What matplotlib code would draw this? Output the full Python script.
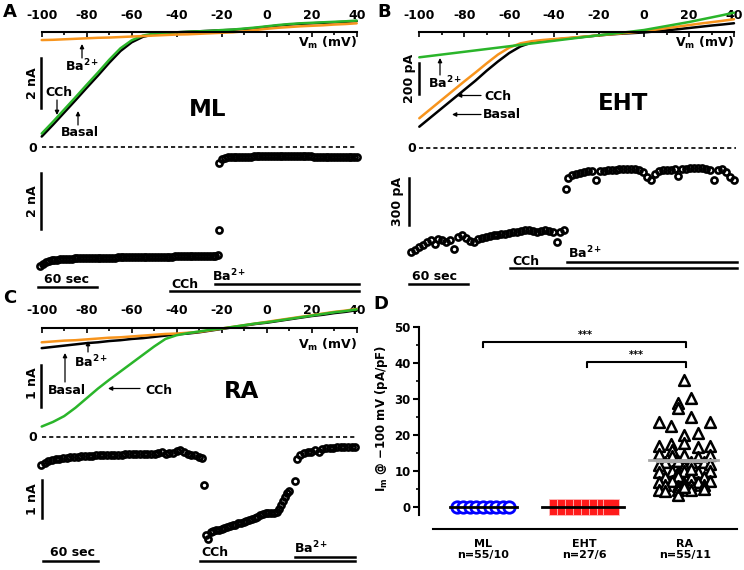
import numpy as np
import matplotlib
matplotlib.use('Agg')
import matplotlib.pyplot as plt
from matplotlib.lines import Line2D
from matplotlib.patches import FancyArrowPatch
from matplotlib.transforms import Affine2D

plt.rcParams['font.family'] = ['DejaVu Sans']
plt.rcParams['font.weight'] = 'bold'
plt.rcParams['mathtext.fontset'] = 'custom'
plt.rcParams['mathtext.rm'] = 'DejaVu Sans:bold'
plt.rcParams['mathtext.it'] = 'DejaVu Sans:bold'
plt.rcParams['mathtext.bf'] = 'DejaVu Sans:bold'
plt.rcParams['axes.unicode_minus'] = False

BLACK = 'black'
GREEN = '#2ab52a'
ORANGE = '#f7941d'

# ---------------- I-V ramps (mV, 5 mV steps) ----------------
vm = np.arange(-100, 45, 5)

iv_a_basal = [-4.17, -3.70, -3.21, -2.72, -2.22, -1.73, -1.22, -0.75, -0.40, -0.18, -0.08, -0.03, 0.00, 0.02, 0.04,
              0.06, 0.08, 0.10, 0.13, 0.17, 0.22, 0.27, 0.31, 0.34, 0.36, 0.38, 0.40, 0.42, 0.45]
iv_a_cch = [-4.05, -3.58, -3.09, -2.60, -2.10, -1.61, -1.10, -0.64, -0.32, -0.13, -0.05, -0.02, 0.00, 0.02, 0.04,
            0.06, 0.09, 0.11, 0.15, 0.19, 0.24, 0.29, 0.33, 0.36, 0.38, 0.40, 0.42, 0.44, 0.47]
iv_a_ba = [-0.31, -0.30, -0.28, -0.26, -0.24, -0.22, -0.21, -0.19, -0.17, -0.15, -0.13, -0.11, -0.09, -0.08, -0.06,
           -0.04, -0.02, 0.00, 0.04, 0.09, 0.14, 0.18, 0.21, 0.24, 0.26, 0.28, 0.31, 0.33, 0.36]

iv_b_basal = [-615, -555, -495, -435, -375, -315, -250, -190, -135, -92, -66, -56, -48, -41, -34,
              -27, -20, -14, -9, -5, -1, 6, 13, 20, 28, 36, 44, 51, 59]
iv_b_cch = [-560, -500, -440, -380, -320, -262, -202, -145, -100, -72, -58, -50, -44, -38, -32,
            -26, -20, -13, -7, 0, 7, 17, 27, 37, 47, 57, 66, 75, 85]
iv_b_ba = [-163, -154, -145, -136, -127, -118, -109, -100, -91, -82, -73, -64, -55, -46, -37,
           -28, -19, -11, -3, 6, 15, 28, 41, 54, 67, 82, 97, 112, 128]

iv_c_basal = [-0.49, -0.46, -0.43, -0.40, -0.37, -0.35, -0.32, -0.30, -0.27, -0.25, -0.22, -0.19, -0.16, -0.14, -0.11,
              -0.07, -0.03, 0.01, 0.05, 0.09, 0.12, 0.16, 0.20, 0.24, 0.28, 0.31, 0.35, 0.38, 0.42]
iv_c_ba = [-0.35, -0.33, -0.31, -0.30, -0.28, -0.26, -0.24, -0.23, -0.21, -0.19, -0.17, -0.15, -0.14, -0.12, -0.10,
           -0.06, -0.02, 0.02, 0.06, 0.10, 0.14, 0.18, 0.22, 0.26, 0.30, 0.34, 0.38, 0.41, 0.45]
iv_c_cch = [-2.37, -2.26, -2.12, -1.92, -1.69, -1.46, -1.25, -1.05, -0.85, -0.65, -0.45, -0.27, -0.18, -0.13, -0.09,
            -0.05, -0.02, 0.02, 0.06, 0.10, 0.13, 0.17, 0.21, 0.25, 0.29, 0.33, 0.37, 0.40, 0.44]

# ---------------- time courses at -100 mV ----------------
# ML (nA), sampled every 3 s
ml_dt = 3
ml_seg1 = [-4.24, -4.17, -4.11, -4.07, -4.04, -4.02, -4.01, -4.00, -3.99, -3.99,
           -3.98, -3.98, -3.97, -3.97, -3.97, -3.96, -3.96, -3.96, -3.96, -3.95,
           -3.95, -3.95, -3.95, -3.94, -3.94, -3.94, -3.94, -3.93, -3.93, -3.93,
           -3.93, -3.93, -3.92, -3.92, -3.92, -3.92, -3.92, -3.91, -3.91, -3.91,
           -3.91, -3.91, -3.90, -3.90, -3.90, -3.90, -3.90, -3.89, -3.89, -3.89,
           -3.89, -3.89, -3.88, -3.88, -3.88, -3.88, -3.88, -3.87, -3.87, -3.87,
           -3.87, -3.87, -3.86]
ml_mid_t, ml_mid = 186.5, -2.95
ml_seg2_t0 = 187
ml_seg2 = [-0.55, -0.42, -0.38, -0.36, -0.35, -0.34, -0.34, -0.33, -0.33, -0.33,
           -0.33, -0.33, -0.32, -0.32, -0.32, -0.32, -0.32, -0.32, -0.32, -0.32,
           -0.32, -0.32, -0.32, -0.32, -0.32, -0.32, -0.32, -0.32, -0.32, -0.32,
           -0.32, -0.32, -0.32, -0.33, -0.33, -0.33, -0.33, -0.33, -0.33, -0.33,
           -0.33, -0.33, -0.33, -0.34, -0.34, -0.34, -0.34, -0.34, -0.35]

# EHT (pA), sampled every 4 s
eht_dt = 4
eht_seg1_t0 = 2
eht_seg1 = [-660, -648, -630, -615, -598, -588, -610, -578, -584, -600, -585, -643, -565, -553, -575, -590, -596, -578,
            -572, -566, -560, -556, -552, -548, -544, -540, -536, -532, -528, -524, -522, -528, -532, -526, -522, -530,
            -536, -596, -534, -524]
eht_mid_t, eht_mid = 160, -262
eht_seg2_t0 = 162
eht_seg2 = [-190, -172, -162, -156, -150, -148, -147, -200, -146, -142, -140, -138, -136, -134, -133, -132, -133, -135,
            -140, -150, -181, -202, -165, -145, -138, -137, -136, -135, -175, -133, -130, -128, -128, -127, -128, -130,
            -138, -202, -140, -130, -150, -180, -200]

# RA (nA)
ra_dt = 4
ra_seg1 = [-0.74, -0.68, -0.64, -0.61, -0.59, -0.58, -0.56, -0.55, -0.54, -0.53, -0.52, -0.51, -0.51, -0.50, -0.50,
           -0.49, -0.49, -0.48, -0.48, -0.48, -0.47, -0.47, -0.47, -0.46, -0.46, -0.46, -0.45, -0.45, -0.45, -0.44,
           -0.44, -0.44, -0.43, -0.41, -0.44, -0.43, -0.42, -0.38, -0.36, -0.40, -0.46, -0.48, -0.49, -0.52, -0.56]
ra_mid_t, ra_mid = 178, -1.26
ra_seg2_t = [180, 182, 185, 188, 191, 194, 197, 200, 203, 206, 209, 212, 215, 218, 221, 224, 227, 230, 233, 236,
             239, 242, 245, 248, 251, 254, 257, 260, 262, 264, 266, 268, 270, 277]
ra_seg2 = [-2.57, -2.67, -2.50, -2.47, -2.45, -2.43, -2.41, -2.39, -2.37, -2.35, -2.32, -2.30, -2.27, -2.25, -2.22,
           -2.20, -2.18, -2.16, -2.13, -2.10, -2.06, -2.02, -2.00, -2.00, -2.01, -1.99, -1.97, -1.88, -1.78, -1.68,
           -1.58, -1.48, -1.42, -1.15]
ra_seg3_t0 = 279
ra_seg3 = [-0.58, -0.47, -0.42, -0.40, -0.39, -0.36, -0.40, -0.33, -0.30, -0.29, -0.29, -0.28, -0.28, -0.28, -0.28,
           -0.28, -0.28]

# ---------------- summary (panel D) ----------------
groups = ['ML\nn=55/10', 'EHT\nn=27/6', 'RA\nn=55/11']
ml_vals = [0.1, 0.0, 0.1, 0.0, 0.0, 0.1, 0.0, 0.0, 0.1]
ml_jit = [-0.26, -0.195, -0.13, -0.065, 0.0, 0.065, 0.13, 0.195, 0.26]
eht_vals = [0.0, 0.0, 0.0, 0.0, 0.0, 0.0, 0.0, 0.0]
eht_jit = [-0.27, -0.19, -0.11, -0.03, 0.05, 0.13, 0.21, 0.27]
ra_vals = [35.3, 30.4, 28.8, 27.4, 23.5, 22.5, 24.9, 23.5, 20.0, 20.5, 16.9, 17.5, 17.7, 16.8, 16.9, 15.8,
           14.6, 14.2, 14.4, 14.0, 14.5,
           12.6, 12.8, 12.4, 12.6,
           11.7, 11.5, 11.9,
           9.8, 10.0, 9.6, 9.9, 9.7, 10.1,
           8.4, 8.6, 8.2, 8.4,
           7.0, 7.2, 6.8, 7.0, 7.1,
           6.1, 5.9, 6.2, 6.0,
           4.7, 4.5, 4.8, 4.6, 4.9,
           3.3, 10.5, 5.5]
ra_jit = [-0.01, 0.06, -0.07, -0.07, -0.26, -0.14, 0.06, 0.25, -0.01, 0.13, -0.26, -0.14, -0.01, 0.13, 0.25, -0.13,
          -0.26, -0.13, -0.01, 0.13, 0.25,
          -0.20, -0.07, 0.06, 0.19,
          -0.26, -0.01, 0.25,
          -0.26, -0.13, -0.07, -0.01, 0.13, 0.25,
          -0.20, -0.07, 0.06, 0.19,
          -0.26, -0.13, -0.01, 0.13, 0.25,
          -0.20, -0.07, 0.06, 0.19,
          -0.26, -0.20, -0.07, 0.06, 0.19,
          -0.07, 0.06, -0.01]
ra_mean, ra_sem_lo = 13.0, 12.4

# ---------------- figure helpers ----------------
W, H = 744, 570
fig = plt.figure(figsize=(W / 100, H / 100), dpi=100)
PX = Affine2D().scale(1 / W, -1 / H).translate(0, 1) + fig.transFigure
FS = 9


def px_axes(box, xref, yref):
    l, t, r, b = box
    ax = fig.add_axes([l / W, 1 - b / H, (r - l) / W, (b - t) / H])
    (x1, v1), (x2, v2) = xref
    sx = (v2 - v1) / (x2 - x1)
    ax.set_xlim(v1 + (l - x1) * sx, v1 + (r - x1) * sx)
    (y1, w1), (y2, w2) = yref
    sy = (w2 - w1) / (y2 - y1)
    ax.set_ylim(w1 + (b - y1) * sy, w1 + (t - y1) * sy)
    ax.patch.set_visible(False)
    return ax


def txt(x, y, s, size=FS, **kw):
    kw.setdefault('ha', 'center')
    kw.setdefault('va', 'center')
    fig.text(x, y, s, transform=PX, fontsize=size, fontweight='bold', **kw)


def seg(xs, ys, lw=1.5, **kw):
    fig.add_artist(Line2D(xs, ys, transform=PX, color='black', lw=lw, **kw))


def arrow(x0, y0, x1, y1):
    fig.add_artist(FancyArrowPatch((x0, y0), (x1, y1), transform=PX, arrowstyle='-|>',
                                   mutation_scale=6, lw=0.9, color='black', shrinkA=0, shrinkB=0))


def iv_panel(box, xref, yref, curves):
    ax = px_axes(box, xref, yref)
    for vals, color in curves:
        ax.plot(vm, vals, color=color, lw=1.8, solid_joinstyle='round', solid_capstyle='round', clip_on=False)
    for s in ['left', 'right', 'bottom']:
        ax.spines[s].set_visible(False)
    ax.spines['top'].set_position(('data', 0))
    ax.spines['top'].set_bounds(-100, 40)
    ax.spines['top'].set_linewidth(1.5)
    ax.xaxis.set_ticks_position('top')
    ax.set_xticks(range(-100, 41, 20))
    ax.set_xticks(range(-90, 40, 20), minor=True)
    ax.tick_params(axis='x', which='both', direction='in', width=1.2, labelsize=FS, pad=7.5)
    ax.tick_params(axis='x', which='major', length=3.5)
    ax.tick_params(axis='x', which='minor', length=2.5)
    ax.set_yticks([])
    return ax


def trace_panel(box, xref, yref, pieces):
    ax = px_axes(box, xref, yref)
    for t, v in pieces:
        ax.plot(t, v, 'o', ms=4.4, mfc='none', mec='black', mew=1.9, clip_on=False)
    ax.axis('off')
    return ax


# ---------------- panel A ----------------
iv_panel((30, 5, 365, 145), ((41.7, -100), (356.7, 40)), ((32.3, 0), (82.3, -2)),
         [(iv_a_basal, BLACK), (iv_a_cch, GREEN), (iv_a_ba, ORANGE)])
txt(10, 12, 'A', size=13)
txt(357, 43, r'V$_\mathregular{m}$ (mV)', ha='right')
seg([41, 41], [58, 108], lw=1.8)
txt(32, 83, '2 nA', rotation=90)
txt(82, 66, r'Ba$^{2+}$')
arrow(82, 58, 82, 44)
txt(59, 92.5, 'CCh')
arrow(57, 100, 57, 115)
txt(80, 133, 'Basal')
arrow(78, 125, 78, 111)
txt(208, 110, 'ML', size=16.5)

ml_t1 = ml_dt * np.arange(len(ml_seg1))
ml_t2 = ml_seg2_t0 + ml_dt * np.arange(len(ml_seg2))
trace_panel((30, 140, 365, 275), ((40, 0), (97.5, 60)), ((147.3, 0), (203.3, -2)),
            [(ml_t1, ml_seg1), ([ml_mid_t], [ml_mid]), (ml_t2, ml_seg2)])
txt(37, 148, '0', ha='right')
seg([42, 357], [147.3, 147.3], lw=1.2, ls=(0, (2.5, 1.8)))
seg([41, 41], [173, 229], lw=1.8)
txt(32, 201, '2 nA', rotation=90)
txt(67, 279.5, '60 sec')
seg([38, 97], [287, 287], lw=1.8)
txt(185, 285, 'CCh')
txt(229, 276, r'Ba$^{2+}$')
seg([215, 359], [284, 284], lw=1.8)
seg([170, 359], [291, 291], lw=1.8)

# ---------------- panel B ----------------
iv_panel((405, 5, 742, 145), ((419.3, -100), (734, 40)), ((32.3, 0), (63, -200)),
         [(iv_b_basal, BLACK), (iv_b_cch, ORANGE), (iv_b_ba, GREEN)])
txt(384, 12, 'B', size=13)
txt(734, 43, r'V$_\mathregular{m}$ (mV)', ha='right')
seg([419, 419], [63, 94], lw=1.8)
txt(409, 78, '200 pA', rotation=90)
txt(445, 83, r'Ba$^{2+}$')
arrow(440, 75, 440, 58)
txt(498, 96.5, 'CCh')
arrow(481, 95.5, 457, 95.5)
txt(502, 115, 'Basal')
arrow(481, 114.5, 452, 114.5)
txt(623, 104, 'EHT', size=16.5)

eht_t1 = eht_seg1_t0 + eht_dt * np.arange(len(eht_seg1))
eht_t2 = eht_seg2_t0 + eht_dt * np.arange(len(eht_seg2))
trace_panel((405, 140, 742, 260), ((409, 0), (468, 60)), ((148.3, 0), (195.3, -300)),
            [(eht_t1, eht_seg1), ([eht_mid_t], [eht_mid]), (eht_t2, eht_seg2)])
txt(416, 148.5, '0', ha='right')
seg([419, 736], [148.3, 148.3], lw=1.2, ls=(0, (2.5, 1.8)))
seg([409, 409], [178, 225], lw=1.8)
txt(397, 201, '300 pA', rotation=90)
txt(435, 276.5, '60 sec')
seg([409, 468], [284, 284], lw=1.8)
txt(526, 261.5, 'CCh')
txt(585, 253, r'Ba$^{2+}$')
seg([567, 737], [261.7, 261.7], lw=1.8)
seg([510, 737], [268.3, 268.3], lw=1.8)

# ---------------- panel C ----------------
iv_panel((30, 290, 365, 432), ((41.7, -100), (356.7, 40)), ((327.7, 0), (369.4, -1)),
         [(iv_c_basal, BLACK), (iv_c_ba, ORANGE), (iv_c_cch, GREEN)])
txt(10, 298, 'C', size=13)
txt(357, 345, r'V$_\mathregular{m}$ (mV)', ha='right')
seg([41, 41], [365, 407], lw=1.8)
txt(32, 383, '1 nA', rotation=90)
txt(91, 362, r'Ba$^{2+}$')
arrow(88, 352, 88, 341)
txt(67, 390, 'Basal')
arrow(65, 382, 65, 353)
txt(159, 390, 'CCh')
arrow(140, 388.5, 108, 388.5)
txt(242, 392, 'RA', size=16.5)

ra_t1 = ra_dt * np.arange(len(ra_seg1))
ra_t3 = ra_seg3_t0 + ra_dt * np.arange(len(ra_seg3))
trace_panel((30, 425, 365, 545), ((41, 0), (96, 60)), ((436.7, 0), (474.9, -1)),
            [(ra_t1, ra_seg1), ([ra_mid_t], [ra_mid]), (ra_seg2_t, ra_seg2), (ra_t3, ra_seg3)])
txt(37, 437.5, '0', ha='right')
seg([42, 355], [436.7, 436.7], lw=1.2, ls=(0, (2.5, 1.8)))
seg([42, 42], [480, 518], lw=1.8)
txt(32, 499, '1 nA', rotation=90)
txt(72, 553, '60 sec')
seg([43, 98], [561, 561], lw=1.8)
txt(215, 553, 'CCh')
txt(311, 548, r'Ba$^{2+}$')
seg([295, 355], [556.7, 556.7], lw=1.8)
seg([200, 355], [560.7, 560.7], lw=1.8)

# ---------------- panel D ----------------
axd = px_axes((419, 318, 740, 529), ((483, 0), (685, 2)), ((507, 0), (327, 50)))
for s in ['top', 'right']:
    axd.spines[s].set_visible(False)
axd.spines['left'].set_bounds(-2.2, 50)
axd.spines['bottom'].set_bounds(-0.495, 2.515)
axd.spines['left'].set_linewidth(1.5)
axd.spines['bottom'].set_linewidth(1.5)
axd.set_yticks(range(0, 51, 10))
axd.set_yticks(range(5, 50, 10), minor=True)
axd.tick_params(axis='y', which='major', length=4, width=1.5, labelsize=8.5, pad=2)
axd.tick_params(axis='y', which='minor', length=2.5, width=1.2)
axd.set_xticks([0, 1, 2])
axd.set_xticklabels(groups, fontsize=8, linespacing=1.1)
axd.tick_params(axis='x', length=0, pad=7)

axd.scatter(np.array(ml_jit), ml_vals, s=68, marker='o', facecolors='white', edgecolors='#0000ff',
            linewidths=2, zorder=3, clip_on=False)
axd.scatter(1 + np.array(eht_jit), eht_vals, s=120, marker='s', facecolors='#ff1a1a', edgecolors='#ffc0c0',
            linewidths=0.6, zorder=3, clip_on=False)
axd.scatter(2 + np.array(ra_jit), ra_vals, s=60, marker='^', facecolors='white', edgecolors='black',
            linewidths=1.8, zorder=3, clip_on=False)
axd.plot([-0.33, 0.34], [0, 0], color='black', lw=2, zorder=4)
axd.plot([0.58, 1.40], [0, 0], color='black', lw=2, zorder=4)
axd.plot([1.64, 2.33], [ra_mean, ra_mean], color='#a8a8a8', lw=2, zorder=4)
axd.plot([1.72, 2.22], [ra_sem_lo, ra_sem_lo], color='#a8a8a8', lw=1.5, zorder=4)

txt(381, 304, 'D', size=13)
txt(381, 418, r'I$_\mathregular{m}$ @ $-$100 mV (pA/pF)', size=8.5, rotation=90)
seg([483, 483, 686, 686], [347, 342, 342, 347], lw=1.5)
txt(585, 335, '***', size=7)
seg([587, 587, 686, 686], [367, 362, 362, 367], lw=1.5)
txt(636, 355, '***', size=7)

fig.savefig('out.png', dpi=100)
